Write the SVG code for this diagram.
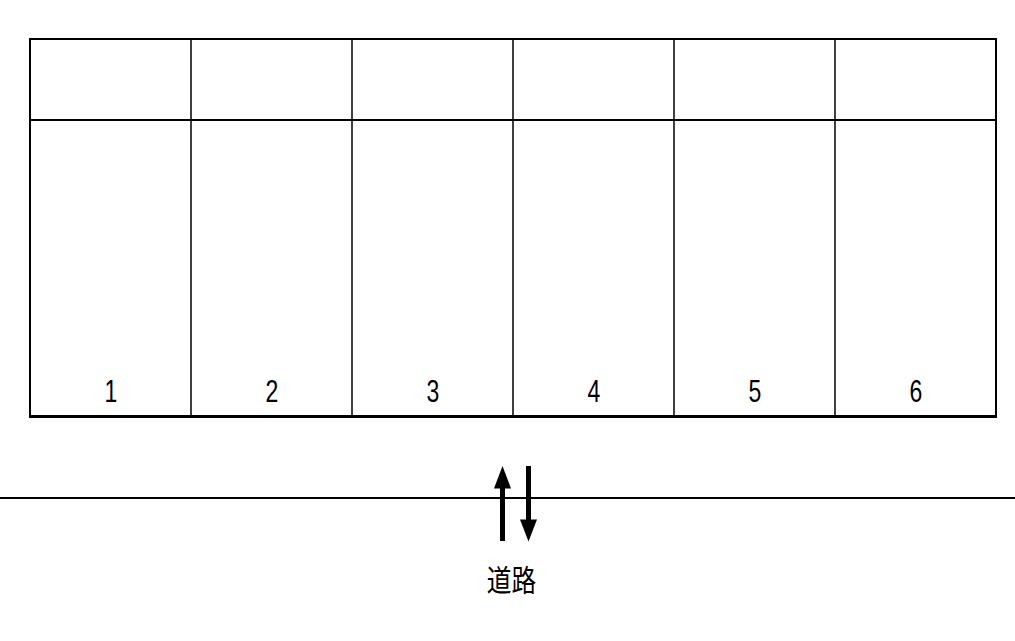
<svg xmlns="http://www.w3.org/2000/svg" width="1015" height="641" viewBox="0 0 1015 641">
<style>
.ln{stroke:#000;fill:none;stroke-width:2}
.thin{stroke-width:1.5}
.num{font-family:"Liberation Sans",Arial,sans-serif;font-size:32px;fill:#000;text-anchor:middle}
.lbl{font-family:"Noto Sans CJK JP","Noto Sans CJK SC",sans-serif;font-size:26px;fill:#000;text-anchor:middle}
</style>
<rect width="1015" height="641" fill="#fff"/>
<g id="table">
<line class="ln" x1="30" y1="39" x2="996" y2="39"/>
<line class="ln" x1="30" y1="120" x2="996" y2="120"/>
<line class="ln" x1="29" y1="416.5" x2="997" y2="416.5" style="stroke-width:3"/>
<line class="ln" x1="30" y1="38" x2="30" y2="417"/>
<line class="ln" x1="996" y1="38" x2="996" y2="417"/>
<line class="ln thin" x1="191" y1="39" x2="191" y2="416"/>
<line class="ln thin" x1="352" y1="39" x2="352" y2="416"/>
<line class="ln thin" x1="513" y1="39" x2="513" y2="416"/>
<line class="ln thin" x1="674" y1="39" x2="674" y2="416"/>
<line class="ln thin" x1="835" y1="39" x2="835" y2="416"/>
</g>
<g id="numbers">
<text class="num" transform="translate(111,402) scale(0.72,1)">1</text>
<text class="num" transform="translate(272,402) scale(0.72,1)">2</text>
<text class="num" transform="translate(433,402) scale(0.72,1)">3</text>
<text class="num" transform="translate(594,402) scale(0.72,1)">4</text>
<text class="num" transform="translate(755,402) scale(0.72,1)">5</text>
<text class="num" transform="translate(916,402) scale(0.72,1)">6</text>
</g>
<g id="road">
<line class="ln" x1="0" y1="498" x2="1015" y2="498"/>
</g>
<g id="connectors">
<rect x="500" y="486" width="5" height="55" fill="#000"/>
<polygon points="502.5,466 494,488.5 511,488.5" fill="#000"/>
<rect x="526" y="466" width="5" height="56" fill="#000"/>
<polygon points="528.5,541.5 520,519.5 537,519.5" fill="#000"/>
</g>
<g id="label">
<text class="lbl" transform="translate(511.5,591) scale(0.95,1.15)">道路</text>
</g>
</svg>
